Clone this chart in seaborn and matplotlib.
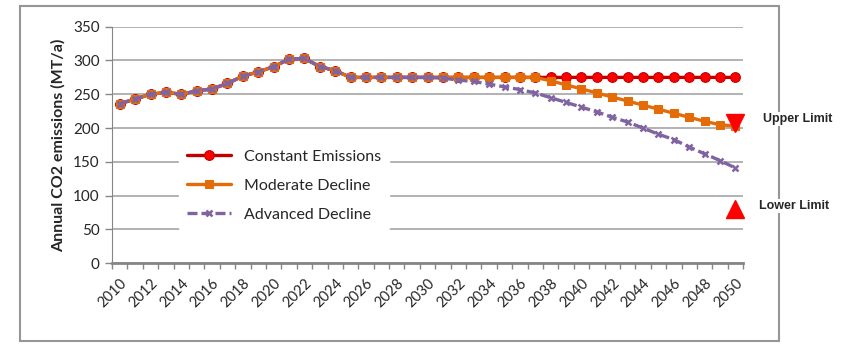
import numpy as np
import pandas as pd
import seaborn as sns
import matplotlib.pyplot as plt
from matplotlib.patches import Rectangle

years = list(range(2010, 2051))

# shared history 2010-2025, then the three scenarios
history = [236, 243, 250, 253, 250, 255, 258, 266, 277, 283, 291, 302, 303,
           291, 285, 275]
constant = history + [275] * 25
moderate = history + [275] * 12 + [270, 264, 258, 252, 246, 240, 234, 228,
                                   222, 216, 210, 205, 203]
advanced = history + [275] * 5 + [274, 271, 269, 265, 261, 257, 252, 245, 238,
                                  231, 224, 216, 209, 200, 191, 183, 172, 162,
                                  152, 141]
upper_limit = 207
lower_limit = 81

df = pd.DataFrame({'year': years, 'Constant Emissions': constant,
                   'Moderate Decline': moderate, 'Advanced Decline': advanced})

sns.set_style('white')
plt.rcParams['font.family'] = ['Lato', 'DejaVu Sans']

fig = plt.figure(figsize=(8.5, 3.56), dpi=100)
ax = fig.add_axes([0.1318, 0.2604, 0.7424, 0.6646])

sns.lineplot(data=df, x='year', y='Constant Emissions', ax=ax, color='#C00000',
             lw=2.4, marker='o', ms=7, mfc='#FF0000', mec='#C00000', mew=0.8,
             label='Constant Emissions', zorder=3)
sns.lineplot(data=df, x='year', y='Moderate Decline', ax=ax, color='#E36C09',
             lw=2.4, marker='s', ms=5.5, mfc='#E36C09', mec='#E36C09',
             label='Moderate Decline', zorder=4)
sns.lineplot(data=df, x='year', y='Advanced Decline', ax=ax, color='#8064A2',
             lw=2.4, ls=(0, (3, 1.2)), marker='x', ms=5, mew=1.8, mec='#8064A2',
             label='Advanced Decline', zorder=5)

ax.plot([2050], [upper_limit], marker='v', ms=13, color='#FF0000',
        ls='none', zorder=6, clip_on=False)
ax.plot([2050], [lower_limit], marker='^', ms=13, color='#FF0000',
        ls='none', zorder=6, clip_on=False)

ax.set_xlim(2009.5, 2050.5)
ax.set_ylim(0, 350)
ax.set_yticks(range(0, 351, 50))
ax.set_xticks(range(2010, 2051, 2))
ax.set_xticks(np.arange(2009.5, 2051, 1), minor=True)
ax.set_xticklabels([str(y) for y in range(2010, 2051, 2)], rotation=45,
                   ha='right', va='top', rotation_mode='anchor')
ax.tick_params(axis='x', which='major', length=0, pad=9, labelsize=10.5)
ax.tick_params(axis='x', which='minor', length=4, width=1, color='#868686',
               direction='out', bottom=True)
ax.tick_params(axis='y', length=5, width=1, color='#868686', left=True,
               labelsize=11, pad=4)
ax.yaxis.grid(True, color='#A6A6A6', lw=1.2)
ax.set_axisbelow(True)
for side in ['top', 'right']:
    ax.spines[side].set_visible(False)
ax.spines['left'].set_color('#868686')
ax.spines['bottom'].set_color('#868686')
ax.spines['bottom'].set_linewidth(2)

ax.set_xlabel('')
ax.set_ylabel('Annual CO2 emissions (MT/a)', fontsize=11.5, fontweight='bold',
              labelpad=5)

leg = ax.legend(loc='upper left', bbox_to_anchor=(0.093, 0.547), frameon=True,
                fontsize=11.5, handlelength=2.8, labelspacing=0.92,
                borderpad=0.5)
leg.get_frame().set_edgecolor('white')
leg.get_frame().set_facecolor('white')
leg.get_frame().set_alpha(1)

# outer chart frame
fig.patches.append(Rectangle((20 / 850, 1 - 341 / 356), 759 / 850, 335 / 356,
                             transform=fig.transFigure, fill=False,
                             edgecolor='#969696', lw=1.5))

fig.text(798 / 850, 1 - 119 / 356, 'Upper Limit', ha='center', va='center',
         fontsize=9, fontweight='bold', family='Liberation Sans',
         bbox=dict(facecolor='white', edgecolor='none', pad=1))
fig.text(794 / 850, 1 - 206 / 356, 'Lower Limit', ha='center', va='center',
         fontsize=9, fontweight='bold', family='Liberation Sans',
         bbox=dict(facecolor='white', edgecolor='none', pad=1))

fig.savefig('out.png', dpi=100)
